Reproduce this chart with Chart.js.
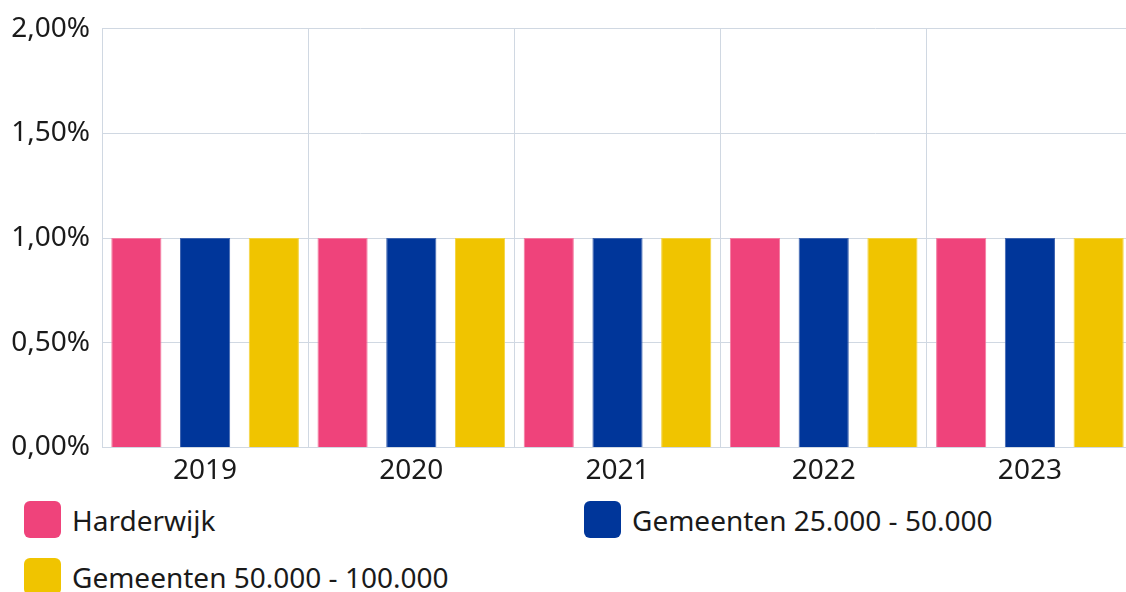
<!DOCTYPE html>
<html>
<head>
<meta charset="utf-8">
<script src="https://cdn.jsdelivr.net/npm/chart.js@4/dist/chart.umd.min.js"></script>
<style>
    html, body { margin: 0; padding: 0; background: #fff; overflow: hidden; }
    body { width: 1126px; height: 592px; position: relative; font-family: 'Noto Sans', sans-serif; }
    #ChartBox { position: absolute; left: 0; top: 0; width: 1134px; height: 500px; }
    #Legend { position: absolute; left: 24px; top: 501px; width: 1100px; display: grid; grid-template-columns: 560px 540px; row-gap: 20px; }
    .item { display: flex; align-items: center; height: 37px; }
    .box { width: 37px; height: 37px; border-radius: 6px; margin-right: 11px; flex: none; }
    .txt { font-size: 28px; color: #1a1a1a; white-space: nowrap; }
</style>
</head>
<body>
<div id="ChartBox"><canvas id="TaxChart"></canvas></div>
<div id="Legend"></div>
<script>
const YEARS = ['2019', '2020', '2021', '2022', '2023'];
const HARDERWIJK = [1.00, 1.00, 1.00, 1.00, 1.00];
const GEM_25_50 = [1.00, 1.00, 1.00, 1.00, 1.00];
const GEM_50_100 = [1.00, 1.00, 1.00, 1.00, 1.00];
const Y_TICKS = [0, 0.5, 1, 1.5, 2];

const GRID_COLOR = '#d0d8e2';
const TEXT_COLOR = '#1a1a1a';

function pct(v){
    return v.toFixed(2).replace('.', ',') + '%';
}

window.onload = function(){
    let ctx = document.getElementById('TaxChart').getContext('2d');

    window.TaxChart = new Chart(ctx, {
        type: 'bar',
        data: {
            labels: YEARS,
            datasets: [
            {
                label: 'Harderwijk',
                data: HARDERWIJK,
                backgroundColor: '#ef437b',
                borderColor: '#f37ba0',
                borderWidth: 1,
            },
            {
                label: 'Gemeenten 25.000 - 50.000',
                data: GEM_25_50,
                backgroundColor: '#00369a',
                borderColor: '#3d63b0',
                borderWidth: 1,
            },
            {
                label: 'Gemeenten 50.000 - 100.000',
                data: GEM_50_100,
                backgroundColor: '#f0c400',
                borderColor: '#f4d440',
                borderWidth: 1,
            }]
        },
        options: {
            responsive: true,
            maintainAspectRatio: false,
            animation: false,
            datasets: {
                bar: {
                    categoryPercentage: 1.0,
                    barPercentage: 0.73,
                }
            },
            layout: {
                padding: { top: 9, right: 1, bottom: 5, left: 0 }
            },
            plugins: {
                legend: { display: false },
                tooltip: { enabled: false }
            },
            scales: {
                x: {
                    grid: {
                        color: GRID_COLOR,
                        drawTicks: false,
                        offset: true,
                    },
                    border: { color: GRID_COLOR },
                    ticks: {
                        color: TEXT_COLOR,
                        padding: 7,
                        maxRotation: 0,
                        font: { family: 'Noto Sans', size: 28 }
                    }
                },
                y: {
                    min: 0,
                    max: 2,
                    afterBuildTicks: function(scale){
                        scale.ticks = Y_TICKS.map(v => ({ value: v }));
                    },
                    afterFit: function(scale){
                        scale.width = 102;
                    },
                    grid: {
                        color: GRID_COLOR,
                        drawTicks: false,
                    },
                    border: { color: GRID_COLOR },
                    ticks: {
                        color: TEXT_COLOR,
                        padding: 12,
                        callback: v => pct(v),
                        font: { family: 'Noto Sans', size: 28 }
                    }
                }
            }
        }
    });

    // legend in two columns, like the original page
    let html = '';
    window.TaxChart.data.datasets.forEach(ds => {
        html += '<div class="item"><span class="box" style="background:' + ds.backgroundColor + '"></span>'
            + '<span class="txt">' + ds.label + '</span></div>';
    });
    document.getElementById('Legend').innerHTML = html;
};
</script>
</body>
</html>
